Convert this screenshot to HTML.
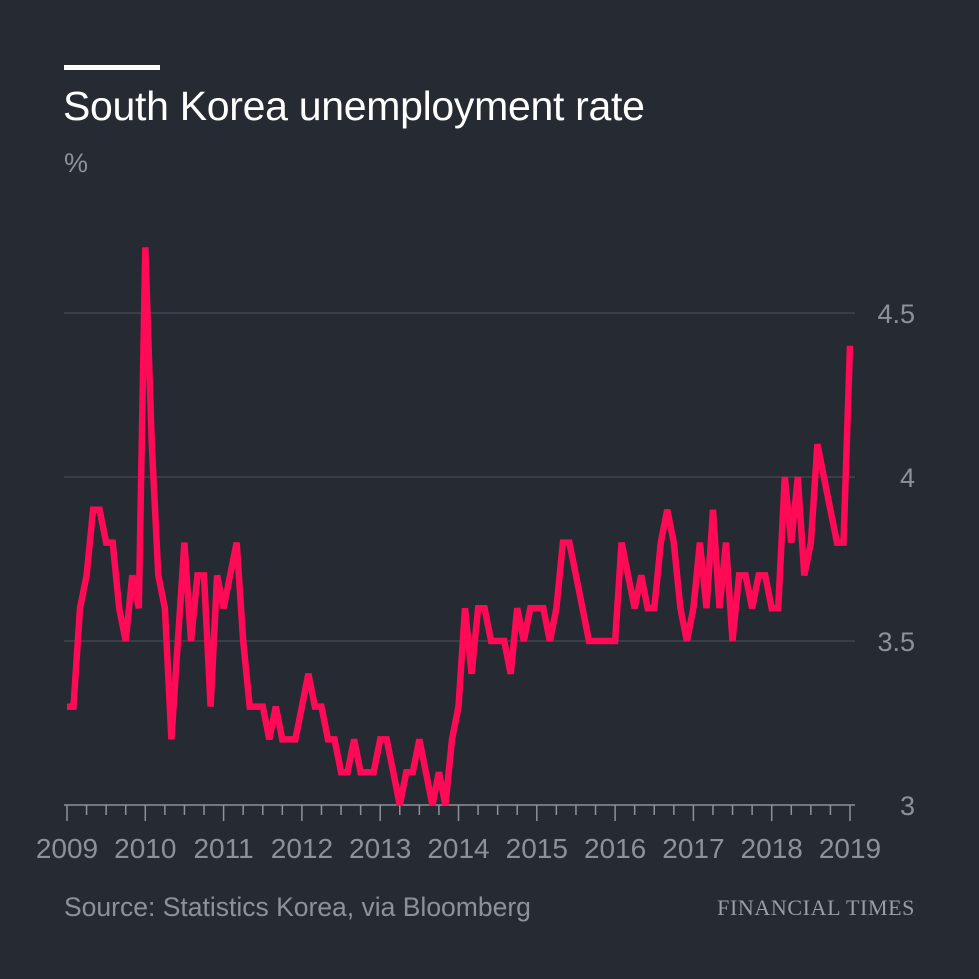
<!DOCTYPE html>
<html><head><meta charset="utf-8"><style>
html,body{margin:0;padding:0;background:#262a33;}
body{width:979px;height:979px;overflow:hidden;position:relative;font-family:"Liberation Sans",sans-serif;}
.t{position:absolute;white-space:nowrap;}
</style></head><body>
<div style="position:absolute;left:64px;top:65px;width:96px;height:5px;background:#fff"></div>
<div class="t" style="left:63px;top:83px;font-size:41px;color:#fff;letter-spacing:-0.3px">South Korea unemployment rate</div>
<div class="t" style="left:64px;top:148px;font-size:27px;color:#8e9198">%</div>
<svg id="chart" width="979" height="979" style="position:absolute;left:0;top:0"></svg>
<div class="t" style="left:64px;top:892px;font-size:26.5px;color:#8e9198">Source: Statistics Korea, via Bloomberg</div>
<div class="t" style="right:64px;top:895px;font-family:'Liberation Serif',serif;font-size:22px;color:#9a9da3;letter-spacing:0.6px">FINANCIAL TIMES</div>
<script>
const values=[3.3,3.3,3.6,3.7,3.9,3.9,3.8,3.8,3.6,3.5,3.7,3.6,
4.7,4.1,3.7,3.6,3.2,3.5,3.8,3.5,3.7,3.7,3.3,3.7,
3.6,3.7,3.8,3.5,3.3,3.3,3.3,3.2,3.3,3.2,3.2,3.2,
3.3,3.4,3.3,3.3,3.2,3.2,3.1,3.1,3.2,3.1,3.1,3.1,
3.2,3.2,3.1,3.0,3.1,3.1,3.2,3.1,3.0,3.1,3.0,3.2,
3.3,3.6,3.4,3.6,3.6,3.5,3.5,3.5,3.4,3.6,3.5,3.6,
3.6,3.6,3.5,3.6,3.8,3.8,3.7,3.6,3.5,3.5,3.5,3.5,
3.5,3.8,3.7,3.6,3.7,3.6,3.6,3.8,3.9,3.8,3.6,3.5,
3.6,3.8,3.6,3.9,3.6,3.8,3.5,3.7,3.7,3.6,3.7,3.7,
3.6,3.6,4.0,3.8,4.0,3.7,3.8,4.1,4.0,3.9,3.8,3.8,
4.4];
const yTicks=[3,3.5,4,4.5];
const yTickLabels=["3","3.5","4","4.5"];
const years=[2009,2010,2011,2012,2013,2014,2015,2016,2017,2018,2019];
const svg=document.getElementById('chart');
const NS='http://www.w3.org/2000/svg';
const x0=67,x1=850,y0=805,y1=313;
const xs=m=>x0+(x1-x0)*m/120;
const ys=v=>y0-(y0-y1)*(v-3)/1.5;
function mk(t,a){const e=document.createElementNS(NS,t);for(const k in a)e.setAttribute(k,a[k]);svg.appendChild(e);return e;}
yTicks.forEach((v,i)=>{
  if(v>3){const g=mk('line',{x1:64,x2:855,y1:ys(v),y2:ys(v),stroke:'#40444c','stroke-width':1.5});
  
  }
  const t=mk('text',{x:915,y:ys(v)+10,'text-anchor':'end','font-size':27,fill:'#8e9198','font-family':'Liberation Sans,sans-serif'});
  t.textContent=yTickLabels[i];
  
  
});
const ax=mk('line',{x1:64,x2:855,y1:y0,y2:y0,stroke:'#8e9198','stroke-width':1.5});


for(let m=0;m<=120;m+=3){
  const yr=m%12===0;
  const tk=mk('line',{x1:xs(m),x2:xs(m),y1:y0,y2:y0+(yr?16:10),stroke:'#8e9198','stroke-width':1.5});
  
  
}
years.forEach((y,i)=>{
  const t=mk('text',{x:xs(i*12),y:858,'text-anchor':'middle','font-size':28,fill:'#8e9198','font-family':'Liberation Sans,sans-serif'});
  t.textContent=y;
  
  
});
const d=values.map((v,i)=>(i?'L':'M')+xs(i).toFixed(1)+' '+ys(v).toFixed(1)).join(' ');
const p=mk('path',{d:d,fill:'none',stroke:'#ff0a56','stroke-width':6.5,'stroke-linejoin':'miter','stroke-miterlimit':3});


</script>
</body></html>
